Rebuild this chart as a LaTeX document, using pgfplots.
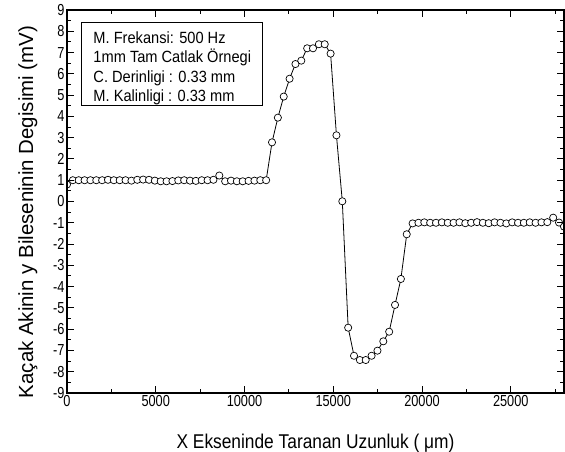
\documentclass[border=0pt]{standalone}
\usepackage{fontspec}
\setmainfont{Liberation Sans}
\newfontfamily\cond[FakeStretch=0.87]{Liberation Sans}
\newfontfamily\condB[FakeStretch=0.9]{Liberation Sans}
\newfontfamily\condT[FakeStretch=0.8]{Liberation Sans}
\usepackage{pgfplots}
\pgfplotsset{compat=1.18}
\begin{document}
\begin{tikzpicture}
\begin{axis}[
 name=ax,
 scale only axis,
 width=497bp, height=383bp,
 xmin=0, xmax=28000, ymin=-9, ymax=9,
 xtick={0,5000,...,25000},
 minor xtick={2500,7500,...,27500},
 ytick={-9,-8,...,9},
 minor ytick={-8.5,-7.5,...,8.5},
 tick align=inside,
 major tick length=7bp, minor tick length=4bp,
 tick style={black, line width=1pt},
 axis line style={line width=1.3pt},
 every tick label/.append style={font=\condT\fontsize{16}{16}\selectfont},
 yticklabel style={xshift=1bp},
 xticklabel style={yshift=1bp},
 /pgf/number format/assume math mode=true,
 /pgf/number format/1000 sep={},
 scaled x ticks=false,
 xlabel={X Ekseninde Taranan Uzunluk ( μm)},
 ylabel={Kaçak Akinin y Bileseninin Degisimi (mV)},
 xlabel style={font=\cond\fontsize{20}{20}\selectfont, at={(axis description cs:0.5,-0.1436)}, anchor=base},
 ylabel style={font=\fontsize{20.5}{21}\selectfont, at={(axis description cs:-0.0785,0.4726)}, anchor=center},
 clip marker paths=true,
 axis on top,
]
\addplot[black, line width=0.8pt, mark=*, mark size=3.6bp, mark options={fill=white, draw=black, line width=0.7pt}] coordinates {
(0,0.80) (330,1.00) (660,1.00) (990,1.00) (1320,1.00) (1650,1.00) (1980,1.00) (2310,1.02)
(2640,1.00) (2970,1.00) (3300,1.00) (3630,0.98) (3960,1.02) (4290,1.03) (4620,1.02) (4950,0.98)
(5280,0.95) (5610,0.95) (5940,0.96) (6270,0.99) (6600,1.00) (6930,0.98) (7260,0.97) (7590,1.00)
(7920,1.00) (8250,1.02) (8580,1.22) (8910,0.95) (9240,0.98) (9570,0.95) (9900,0.95) (10230,0.97)
(10560,0.98) (10890,1.00) (11220,1.00)
(11550,2.78) (11880,3.94) (12210,4.93) (12540,5.77) (12870,6.46) (13200,6.62) (13530,7.20)
(13860,7.20) (14190,7.39) (14520,7.39) (14850,6.95) (15180,3.11) (15510,0.01) (15840,-5.93)
(16170,-7.25) (16500,-7.45) (16830,-7.45) (17160,-7.25) (17490,-7.01) (17820,-6.57) (18150,-6.12)
(18480,-4.86) (18810,-3.64) (19140,-1.54) (19470,-1.03)
(19800,-1.00) (20130,-0.98) (20460,-1.00) (20790,-1.00) (21120,-0.98) (21450,-1.00) (21780,-1.00)
(22110,-0.98) (22440,-1.02) (22770,-1.00) (23100,-0.97) (23430,-1.00) (23760,-1.02) (24090,-0.98)
(24420,-1.00) (24750,-1.03) (25080,-0.98) (25410,-1.00) (25740,-1.00) (26070,-0.98) (26400,-1.00)
(26730,-0.98) (27060,-0.97) (27390,-0.76) (27720,-0.99) (28000,-1.18)
};
\draw[line width=0.8pt] (rel axis cs:0.0296,0.752) rectangle (rel axis cs:0.394,0.9668);
\node[anchor=base west, inner sep=0pt, font=\condB\fontsize{16.3}{17}\selectfont] at (rel axis cs:0.0529,0.9131) {M. Frekansi: 500 Hz};
\node[anchor=base west, inner sep=0pt, font=\condB\fontsize{16.3}{17}\selectfont] at (rel axis cs:0.0529,0.8622) {1mm Tam Catlak Örnegi};
\node[anchor=base west, inner sep=0pt, font=\condB\fontsize{16.3}{17}\selectfont] at (rel axis cs:0.0529,0.8112) {C. Derinligi : 0.33 mm};
\node[anchor=base west, inner sep=0pt, font=\condB\fontsize{16.3}{17}\selectfont] at (rel axis cs:0.0529,0.7603) {M. Kalinligi : 0.33 mm};
\end{axis}
\pgfresetboundingbox
\path ([shift={(-67bp,-59bp)}]ax.south west) rectangle ([shift={(1bp,10bp)}]ax.north east);
\end{tikzpicture}
\end{document}
